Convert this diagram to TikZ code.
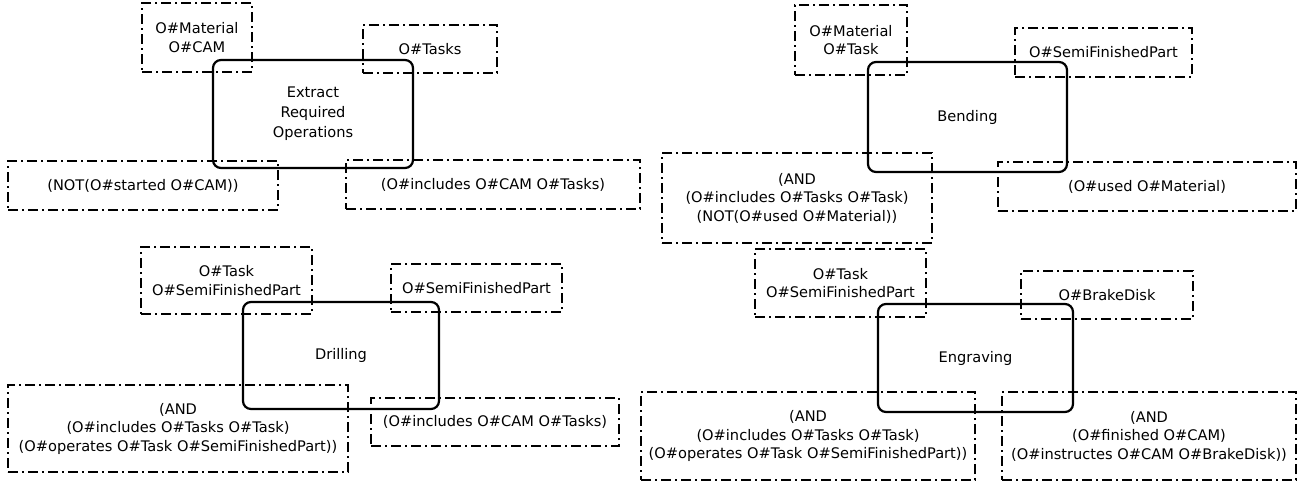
\documentclass[tikz,border=0pt]{standalone}
\usepackage{fontspec}
\setmainfont{DejaVu Sans}
\usetikzlibrary{positioning}
\tikzset{
  cond/.style={draw,line width=1.8pt,dash pattern=on 10pt off 4pt on 2pt off 4pt,
    inner sep=0pt,outer sep=0pt,align=center,font=\fontsize{14.6}{18.5}\selectfont},
  opbox/.style={draw,line width=2.2pt,rounded corners=8pt,inner sep=0pt,outer sep=0pt,
    align=center,font=\fontsize{14.6}{20}\selectfont},
}

\begin{document}
\begin{tikzpicture}[x=1pt,y=-1pt]
\useasboundingbox (0,0) rectangle (1307,482);
% extract required operations
\node[cond,minimum width=110pt,minimum height=69pt] (mat1) at (197,37.5) {O\#Material\\O\#CAM};
\node[cond,minimum width=134pt,minimum height=48pt] (tasks1) at (430,49) {O\#Tasks};
\node[cond,minimum width=270pt,minimum height=49pt] (pre1) at (143,185.5) {(NOT(O\#started O\#CAM))};
\node[cond,minimum width=294pt,minimum height=49pt] (post1) at (493,184.5) {(O\#includes O\#CAM O\#Tasks)};
\node[opbox,minimum width=200pt,minimum height=108pt] (extract) at (313,114) {Extract\\Required\\Operations};
% bending
\node[cond,minimum width=112pt,minimum height=70pt] (mat2) at (851,40) {O\#Material\\O\#Task};
\node[cond,minimum width=177pt,minimum height=49pt] (semi2) at (1103.5,52.5) {O\#SemiFinishedPart};
\node[cond,minimum width=270pt,minimum height=90pt] (pre2) at (797,198)
  {(AND\\(O\#includes O\#Tasks O\#Task)\\(NOT(O\#used O\#Material))};
\node[cond,minimum width=298pt,minimum height=49pt] (post2) at (1147,186.5) {(O\#used O\#Material)};
\node[opbox,minimum width=199pt,minimum height=110pt] (bending) at (967.5,117) {Bending};
% drilling
\node[cond,minimum width=171pt,minimum height=67pt] (task3) at (226.5,280.5) {O\#Task\\O\#SemiFinishedPart};
\node[cond,minimum width=171pt,minimum height=48pt] (semi3) at (476.5,288) {O\#SemiFinishedPart};
\node[cond,minimum width=340pt,minimum height=87pt] (pre3) at (178,428.5)
  {(AND\\(O\#includes O\#Tasks O\#Task)\\(O\#operates O\#Task O\#SemiFinishedPart))};
\node[cond,minimum width=248pt,minimum height=48pt] (post3) at (495,422) {(O\#includes O\#CAM O\#Tasks)};
\node[opbox,minimum width=196pt,minimum height=107pt] (drilling) at (341,355.5) {Drilling};
% engraving
\node[cond,minimum width=171pt,minimum height=68pt] (task4) at (840.5,283) {O\#Task\\O\#SemiFinishedPart};
\node[cond,minimum width=172pt,minimum height=48pt] (brake4) at (1107,295) {O\#BrakeDisk};
\node[cond,minimum width=334pt,minimum height=88pt] (pre4) at (808,436)
  {(AND\\(O\#includes O\#Tasks O\#Task)\\(O\#operates O\#Task O\#SemiFinishedPart))};
\node[cond,minimum width=294pt,minimum height=88pt] (post4) at (1149,436)
  {(AND\\(O\#finished O\#CAM)\\(O\#instructes O\#CAM O\#BrakeDisk))};
\node[opbox,minimum width=195pt,minimum height=108pt] (engraving) at (975.5,358) {Engraving};
\end{tikzpicture}
\end{document}
